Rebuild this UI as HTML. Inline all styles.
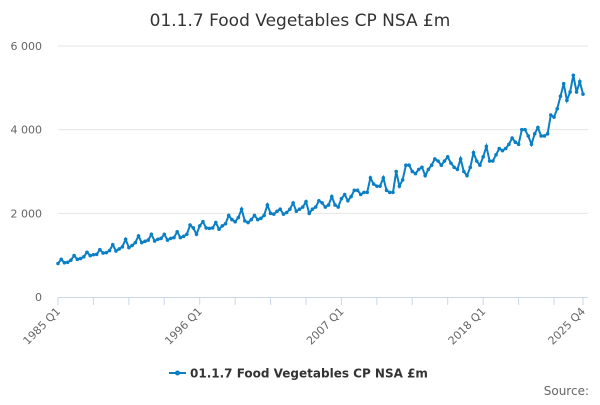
<!DOCTYPE html>
<html><head><meta charset="utf-8"><style>
body{margin:0;width:600px;height:400px;background:#fff;font-family:"Liberation Sans","DejaVu Sans",sans-serif;overflow:hidden}
</style></head><body>
<svg id="c" width="600" height="400" xmlns="http://www.w3.org/2000/svg">
<text x="300" y="26" text-anchor="middle" font-size="17" fill="#333" font-family="DejaVu Sans, sans-serif">01.1.7 Food Vegetables CP NSA £m</text>
<g id="grid"></g><g id="xax"></g><g id="series"></g>
<g>
<line x1="169" y1="373" x2="186" y2="373" stroke="#0a7fc4" stroke-width="2"/>
<circle cx="177.5" cy="373" r="2.5" fill="#0a7fc4"/>
<text x="190" y="377.5" font-size="12" font-weight="bold" fill="#333" font-family="DejaVu Sans, sans-serif">01.1.7 Food Vegetables CP NSA £m</text>
</g>
<text x="589" y="395" text-anchor="end" font-size="12" fill="#666" font-family="DejaVu Sans, sans-serif">Source:</text>
</svg>
<script>
const yTicks=[0,2000,4000,6000];
const yTickLabels=["0","2 000","4 000","6 000"];
const xLabels=["1985 Q1","1996 Q1","2007 Q1","2018 Q1","2025 Q4"];
const xLabelIdx=[0,44,88,132,163];
const values=[
800,900,820,830, 880,990,900,920, 960,1070,990,1010, 1020,1130,1050,1060,
1110,1250,1100,1150, 1200,1380,1180,1230, 1300,1460,1300,1330, 1360,1500,1340,1380,
1400,1500,1360,1400, 1420,1560,1420,1450, 1500,1720,1650,1500, 1700,1800,1650,1640,
1650,1780,1620,1700, 1750,1950,1850,1800, 1900,2100,1820,1780, 1850,1950,1850,1880,
1950,2200,2000,1980, 2050,2100,1980,2020, 2100,2250,2050,2100, 2150,2280,2000,2100,
2150,2300,2250,2150, 2200,2400,2200,2150, 2350,2450,2300,2400, 2550,2550,2450,2500,
2500,2850,2700,2650, 2650,2850,2550,2500, 2500,3000,2650,2800, 3150,3150,3000,2950,
3050,3100,2900,3050, 3150,3300,3250,3150, 3250,3350,3200,3100, 3050,3300,3000,2900,
3100,3450,3250,3150, 3350,3600,3250,3250, 3400,3550,3500,3550, 3650,3800,3700,3650,
4000,4000,3850,3650, 3900,4050,3850,3850, 3900,4350,4300,4500, 4800,5100,4700,4900,
5300,4900,5150,4850];
const NS="http://www.w3.org/2000/svg";
const X0=58,X1=583,Y0=297,Y1=46;
function xs(i){return X0+(X1-X0)*i/(values.length-1);}
function ys(v){return Y0-(Y0-Y1)*v/6000;}
function mk(t,a,p){const e=document.createElementNS(NS,t);for(const k in a)e.setAttribute(k,a[k]);p.appendChild(e);return e;}
const grid=document.getElementById('grid');
yTicks.forEach((v,i)=>{
 if(v>0){const l=mk('line',{x1:X0,x2:X1+5,y1:ys(v),y2:ys(v),stroke:'#e6e6e6'},grid);
 
 }
 const t=mk('text',{x:42,y:ys(v)+4,'text-anchor':'end','font-size':'11',fill:'#666','font-family':'DejaVu Sans, sans-serif'},grid);
 t.textContent=yTickLabels[i];
 
 
});
const xax=document.getElementById('xax');
mk('line',{x1:X0,x2:X1+5,y1:Y0+0.5,y2:Y0+0.5,stroke:'#ccd6eb'},xax);
for(let i=0;i<values.length;i+=11){mk('line',{x1:xs(i),x2:xs(i),y1:Y0,y2:Y0+8,stroke:'#ccd6eb'},xax);}
mk('line',{x1:xs(163),x2:xs(163),y1:Y0,y2:Y0+8,stroke:'#ccd6eb'},xax);
xLabels.forEach((s,k)=>{
 const x=xs(xLabelIdx[k]);
 const t=mk('text',{x:x+3,y:Y0+15,'text-anchor':'end','font-size':'11',fill:'#666','font-family':'DejaVu Sans, sans-serif',transform:`rotate(-45 ${x+3} ${Y0+15})`},xax);
 t.textContent=s;
 
 
});
const g=document.getElementById('series');
const p=mk('path',{d:values.map((v,i)=>(i?'L':'M')+xs(i).toFixed(1)+' '+ys(v).toFixed(1)).join(''),fill:'none',stroke:'#0a7fc4','stroke-width':'2'},g);


values.forEach((v,i)=>{
 const c=mk('circle',{cx:xs(i),cy:ys(v),r:1.8,fill:'#0a7fc4'},g);
 
 
});
</script>
</body></html>
